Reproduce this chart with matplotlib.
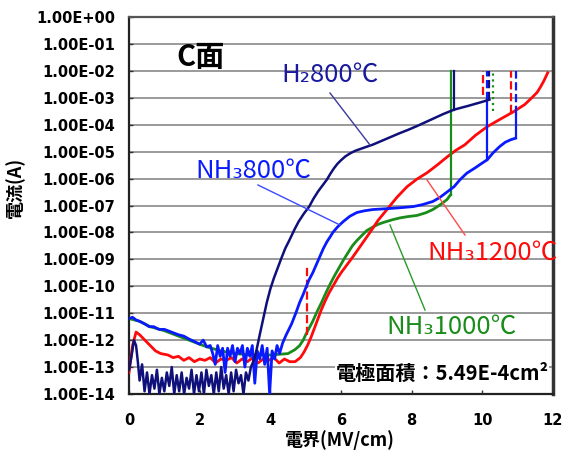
import matplotlib
matplotlib.use("Agg")
import matplotlib.pyplot as plt
import numpy as np
from matplotlib.ticker import FixedLocator, FuncFormatter

# ---------------- data (log10 of current in A vs field in MV/cm) ----------------
h2_800_E = [0.0, 0.07, 0.14, 0.2, 0.25,
            0.30, 0.37, 0.44, 0.51, 0.58, 0.65, 0.72, 0.79, 0.86, 0.93, 1.00, 1.07, 1.14,
            1.21, 1.28, 1.35, 1.42, 1.49, 1.56, 1.63, 1.70, 1.77, 1.84, 1.91, 1.98, 2.05,
            2.12, 2.19, 2.26, 2.33, 2.40, 2.47, 2.54, 2.61, 2.68, 2.75, 2.82, 2.89, 2.96,
            3.03, 3.10, 3.17, 3.24, 3.31, 3.38, 3.45,
            3.55, 3.62, 3.7, 3.8, 3.9, 4.0, 4.1, 4.2, 4.3, 4.42, 4.55, 4.68, 4.8, 4.95,
            5.1, 5.22, 5.35, 5.48, 5.6, 5.7, 5.8, 5.9, 6.0, 6.12, 6.25, 6.4, 6.55, 6.7,
            6.9, 7.15, 7.4, 7.65, 7.9, 8.15, 8.4, 8.65, 8.9, 9.2, 9.6, 10.0, 10.2]
h2_800_logI = [-13.1, -12.6, -12.0, -12.2, -12.8,
               -13.5, -12.9, -13.9, -13.2, -14.0, -13.3, -13.8, -13.1, -14.0, -13.4, -13.9,
               -13.2, -13.7, -13.0, -14.0, -13.3, -13.9, -13.2, -14.0, -13.4, -13.8, -13.1,
               -14.0, -13.3, -13.9, -13.2, -14.0, -13.1, -13.7, -13.3, -14.0, -13.2, -13.9,
               -13.0, -13.8, -13.3, -14.0, -13.2, -13.9, -13.1, -13.6, -13.3, -14.0, -13.2,
               -13.5, -13.0,
               -12.7, -12.3, -11.8, -11.2, -10.6, -10.1, -9.7, -9.35, -9.0, -8.6, -8.26,
               -7.9, -7.6, -7.3, -7.04, -6.75, -6.48, -6.25, -6.04, -5.82, -5.62, -5.45,
               -5.32, -5.18, -5.07, -4.97, -4.9, -4.83, -4.74, -4.6, -4.46, -4.32, -4.19,
               -4.05, -3.9, -3.75, -3.6, -3.44, -3.3, -3.15, -3.07]

nh3_800_E = [0.0, 0.1, 0.2, 0.3, 0.45, 0.57, 0.7, 0.85, 1.0, 1.14, 1.3, 1.4, 1.55, 1.7,
             1.85, 2.0, 2.1, 2.2,
             2.30, 2.37, 2.44, 2.51, 2.58, 2.65, 2.72, 2.79, 2.86, 2.93, 3.00, 3.07, 3.14,
             3.21, 3.28, 3.35, 3.42, 3.49, 3.56, 3.63, 3.70, 3.77, 3.84, 3.91, 3.98, 4.05,
             4.12, 4.19, 4.26,
             4.35, 4.45, 4.6, 4.72, 4.83, 4.93, 5.02, 5.1, 5.2, 5.3, 5.4, 5.5, 5.6, 5.7,
             5.77, 5.9, 6.06, 6.25, 6.45, 6.65, 6.9, 7.15, 7.39, 7.7, 8.04, 8.3, 8.6, 8.8,
             9.0, 9.2, 9.37, 9.56, 9.8, 10.0, 10.14, 10.3, 10.5, 10.65, 10.8, 10.94]
nh3_800_logI = [-11.2, -11.15, -11.25, -11.3, -11.4, -11.5, -11.5, -11.6, -11.6, -11.67,
                -11.75, -11.8, -11.85, -11.96, -12.05, -12.15, -12.0, -12.25,
                -12.2, -12.5, -12.9, -12.2, -12.6, -12.3, -13.2, -12.3, -12.6, -12.2,
                -12.8, -12.3, -12.5, -12.2, -13.0, -12.3, -12.6, -12.2, -13.6, -12.4,
                -12.7, -12.2, -12.9, -12.3, -14.0, -12.4, -12.7, -12.2, -12.5,
                -12.1, -11.8, -11.4, -11.0, -10.6, -10.3, -10.0, -9.75, -9.5, -9.2, -8.9,
                -8.6, -8.35, -8.15, -8.0, -7.8, -7.6, -7.4, -7.26, -7.2, -7.15, -7.13,
                -7.11, -7.08, -7.04, -6.97, -6.85, -6.7, -6.5, -6.3, -6.04, -5.8, -5.6,
                -5.42, -5.3, -5.05, -4.8, -4.65, -4.56, -4.5]

nh3_1000_E = [0.0, 0.3, 0.6, 1.0, 1.4, 1.8, 2.2, 2.6, 3.0, 3.5, 4.0, 4.5, 4.7, 4.83, 4.93,
              5.0, 5.1, 5.2, 5.32, 5.45, 5.57, 5.7, 5.82, 5.95, 6.08, 6.2, 6.32, 6.45, 6.6,
              6.73, 6.9, 7.05, 7.2, 7.45, 7.67, 7.9, 8.15, 8.4, 8.6, 8.8, 9.0, 9.1]
nh3_1000_logI = [-11.2, -11.3, -11.5, -11.65, -11.85, -12.05, -12.25, -12.4, -12.5,
                 -12.55, -12.55, -12.5, -12.35, -12.2, -12.0, -11.8, -11.55, -11.3,
                 -10.95, -10.6, -10.25, -9.9, -9.6, -9.3, -9.0, -8.75, -8.5, -8.3, -8.1,
                 -7.93, -7.8, -7.7, -7.63, -7.53, -7.46, -7.41, -7.37, -7.27, -7.15,
                 -6.98, -6.78, -6.6]

nh3_1200_E = [0.0, 0.1, 0.2, 0.3, 0.45, 0.6, 0.75, 0.9, 1.1, 1.25, 1.4, 1.55, 1.7, 1.85,
              2.0, 2.15, 2.3, 2.45, 2.6, 2.75, 2.9, 3.05, 3.2, 3.35, 3.5, 3.65, 3.8, 3.95,
              4.1, 4.25, 4.4, 4.55, 4.7, 4.85, 4.95, 5.05, 5.15, 5.25, 5.35, 5.45, 5.55,
              5.66, 5.77, 5.9, 6.0, 6.17, 6.34, 6.58, 6.82, 7.05, 7.3, 7.58, 7.87, 8.15,
              8.44, 8.72, 9.0, 9.25, 9.5, 9.8, 10.14, 10.5, 10.88, 11.2, 11.4, 11.55,
              11.65, 11.75, 11.85]
nh3_1200_logI = [-13.2, -12.2, -11.7, -11.8, -12.0, -12.2, -12.4, -12.5, -12.55, -12.65,
                 -12.6, -12.75, -12.65, -12.8, -12.7, -12.75, -12.65, -12.85, -12.7,
                 -12.75, -12.65, -12.85, -12.7, -12.8, -12.65, -12.85, -12.7, -12.75,
                 -12.65, -12.85, -12.7, -12.8, -12.8, -12.65, -12.45, -12.2, -11.9, -11.55,
                 -11.2, -10.85, -10.55, -10.25, -10.0, -9.7, -9.5, -9.2, -8.9, -8.45, -8.0,
                 -7.55, -7.15, -6.7, -6.3, -6.02, -5.78, -5.5, -5.2, -4.95, -4.75, -4.4,
                 -4.07, -3.8, -3.52, -3.25, -3.0, -2.8, -2.59, -2.35, -2.07]

# breakdown jumps (vertical segments): field, log start, log end, series, line style
jumps_E = [9.2, 10.2, 10.14, 10.14, 10.94, 10.94, 9.1, 10.3, 5.05, 10.03, 10.8]
jumps_lo = [-3.44, -3.07, -5.3, -3.1, -4.5, -3.6, -6.6, -3.5, -11.8, -2.9, -3.55]
jumps_hi = [-2.0, -2.0, -3.1, -2.0, -3.6, -2.0, -2.0, -2.0, -9.3, -2.0, -2.0]
jumps_series = ["h2", "h2", "n800", "n800", "n800", "n800", "n1000", "n1000", "n1200",
                "n1200", "n1200"]
jumps_style = ["-", "--", "-", "--", "-", "--", "-", ":", "--", "--", "--"]

xticks = [0, 2, 4, 6, 8, 10, 12]
yexps = list(range(-14, 1))

colors = {"h2": "#10107a", "n800": "#0a1aff", "n1000": "#1a8c1a", "n1200": "#ff0a0a"}

# ---------------- figure ----------------
fig = plt.figure(figsize=(5.62, 4.62), dpi=100)
ax = fig.add_axes([129 / 562, 1 - 394 / 462, (553 - 129) / 562, (394 - 17) / 462])


def p(v):
    return np.power(10.0, np.asarray(v))


ax.plot(nh3_1000_E, p(nh3_1000_logI), color=colors["n1000"], lw=2.0, zorder=3)
ax.plot(nh3_1200_E, p(nh3_1200_logI), color=colors["n1200"], lw=2.0, zorder=3)
ax.plot(nh3_800_E, p(nh3_800_logI), color=colors["n800"], lw=2.0, zorder=4)
ax.plot(h2_800_E, p(h2_800_logI), color=colors["h2"], lw=1.8, zorder=4)

for e, lo, hi, s, st in zip(jumps_E, jumps_lo, jumps_hi, jumps_series, jumps_style):
    ax.plot([e, e], [p(lo), p(hi)], color=colors[s], lw=1.6, ls=st, zorder=3)

ax.set_yscale("log")
ax.set_xlim(0, 12)
ax.set_ylim(1e-14, 1e0)
ax.yaxis.set_major_locator(FixedLocator([10.0 ** k for k in yexps]))
ax.yaxis.set_minor_locator(FixedLocator([]))
ax.yaxis.set_major_formatter(
    FuncFormatter(lambda v, pos: "1.00E%+03d" % int(round(np.log10(v)))))
ax.set_xticks(xticks)
ax.set_xticklabels([str(t) for t in xticks])
ax.grid(axis="y", color="#9a9a9a", lw=1.4, zorder=0)
ax.set_axisbelow(True)

ax.tick_params(axis="both", direction="in", length=3, width=1, color="#333333",
               labelsize=10.5)
ax.tick_params(axis="y", pad=10)
ax.tick_params(axis="x", pad=14)
for lab in ax.get_xticklabels() + ax.get_yticklabels():
    lab.set_fontweight("bold")
    lab.set_family(["DejaVu Sans"])

ax.spines["left"].set_color("#222222")
ax.spines["bottom"].set_color("#222222")
ax.spines["top"].set_color("#555555")
ax.spines["right"].set_color("#333333")
for s in ["left", "bottom", "top"]:
    ax.spines[s].set_linewidth(1.6)
ax.spines["right"].set_linewidth(2.5)

cjk = ["Noto Sans CJK JP", "DejaVu Sans"]


def fx(x):
    return x / 562


def fy(y):
    return 1 - y / 462


fig.text(fx(340), fy(440), "電界(MV/cm)", ha="center", va="center",
         fontsize=13, fontweight="bold", family=cjk)
fig.text(fx(15), fy(187), "電流(A)", ha="center", va="center", rotation=90,
         fontsize=13, fontweight="bold", family=cjk)

fig.text(fx(201), fy(57), "C面", fontsize=21, fontweight="bold",
         family=["Noto Sans CJK JP"], ha="center", va="center")

fig.text(fx(330), fy(75), "H₂800℃", color="#1a1aa0", fontsize=18.5, family=cjk,
         ha="center", va="center")
fig.text(fx(253), fy(171), "NH₃800℃", color="#0a1aff", fontsize=18.5, family=cjk,
         ha="center", va="center")
fig.text(fx(493), fy(253), "NH₃1200℃", color="#ff0a0a", fontsize=18.5, family=cjk,
         ha="center", va="center")
fig.text(fx(452), fy(327), "NH₃1000℃", color="#1a8c1a", fontsize=18.5, family=cjk,
         ha="center", va="center")

# leader lines (figure pixel coords)
leaders = [((330, 93), (370, 145), "#3a3a9a"),
           ((258, 185), (340, 225), "#3a4aff"),
           ((427, 180), (465, 235), "#ff4a4a"),
           ((390, 225), (425, 310), "#2a9a2a")]
for (x0, y0), (x1, y1), c in leaders:
    fig.add_artist(plt.Line2D([fx(x0), fx(x1)], [fy(y0), fy(y1)], color=c, lw=1.0,
                              transform=fig.transFigure))

fig.text(fx(442), fy(373), "電極面積：5.49E-4cm²", fontsize=14.5, fontweight="bold",
         family=cjk, ha="center", va="center",
         bbox=dict(facecolor="white", edgecolor="none", pad=0.5))

fig.savefig("out.png", dpi=100)
